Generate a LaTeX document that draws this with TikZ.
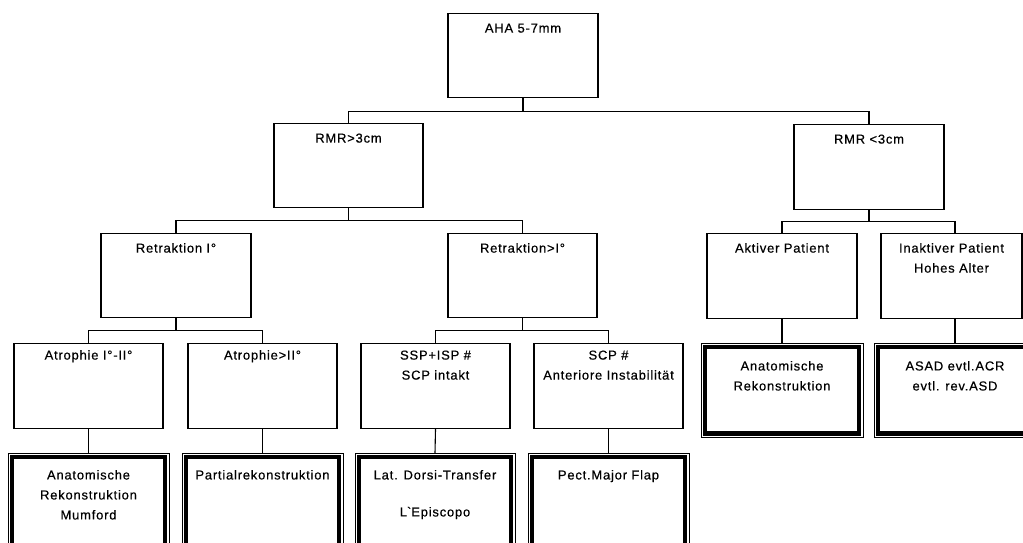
\documentclass[tikz,border=0pt]{standalone}
\usepackage{fontspec}
\setmainfont{Liberation Sans}[LetterSpace=6,FakeBold=0.5]
\usetikzlibrary{calc}

% box content: width, height, gap above first line, text lines
\newcommand{\boxtext}[4]{\parbox[t][#2][t]{#1}{\centering\vspace*{#3}\strut #4}}

\tikzset{
  tbox/.style={draw, line width=1.2pt, inner sep=0pt, anchor=north,
    font=\fontsize{13}{20}\selectfont},
  dbox/.style={draw, line width=0.9pt, inner sep=0pt, anchor=north,
    font=\fontsize{13}{20}\selectfont,
    path picture={\draw[line width=4.2pt]
      ([shift={(3.9pt,-3.9pt)}]path picture bounding box.north west) rectangle
      ([shift={(-3.9pt,3.9pt)}]path picture bounding box.south east);}},
  conn/.style={line width=1.1pt},
}

\begin{document}
\begin{tikzpicture}[x=1pt,y=-1pt]
\useasboundingbox (0,0) rectangle (1023,542);
\clip (0,0) rectangle (1023,542);

% level 0
\node[tbox] (aha) at (523,13) {\boxtext{150pt}{84pt}{5pt}{AHA 5-7mm}};

% level 1
\node[tbox] (rmrA) at (348.5,123) {\boxtext{149pt}{84pt}{5pt}{RMR>3cm}};
\node[tbox] (rmrB) at (869,124) {\boxtext{150pt}{85pt}{5pt}{RMR <3cm}};

% level 2
\node[tbox] (retA) at (176,233) {\boxtext{150pt}{84pt}{5pt}{Retraktion I°}};
\node[tbox] (retB) at (522.5,233) {\boxtext{149pt}{84pt}{5pt}{Retraktion>I°}};
\node[tbox] (akt) at (782,233) {\boxtext{150pt}{85pt}{5pt}{Aktiver Patient}};
\node[tbox] (inakt) at (951.5,233) {\boxtext{141pt}{85pt}{5pt}{Inaktiver Patient\\Hohes Alter}};

% level 3
\node[tbox] (atA) at (88.5,343) {\boxtext{149pt}{85pt}{2pt}{Atrophie I°-II°}};
\node[tbox] (atB) at (262.5,343) {\boxtext{149pt}{85pt}{2pt}{Atrophie>II°}};
\node[tbox] (ssp) at (435.5,343) {\boxtext{149pt}{85pt}{2pt}{SSP+ISP \#\\SCP intakt}};
\node[tbox] (scp) at (608.5,343) {\boxtext{149pt}{85pt}{2pt}{SCP \#\\Anteriore Instabilität}};

% therapy boxes (right branch)
\node[dbox] (anat) at (782,343) {\boxtext{162pt}{94pt}{13pt}{Anatomische\\Rekonstruktion}};
\node[dbox] (asad) at (955,343) {\boxtext{162pt}{94pt}{13pt}{ASAD evtl.ACR\\evtl. rev.ASD}};

% therapy boxes (left branch)
\node[dbox] (mumf) at (88.5,453) {\boxtext{161pt}{110pt}{12pt}{Anatomische\\Rekonstruktion\\Mumford}};
\node[dbox] (part) at (262.5,453) {\boxtext{161pt}{110pt}{12pt}{Partialrekonstruktion}};
\node[dbox] (lat) at (435,453) {\boxtext{160pt}{110pt}{12pt}{Lat. Dorsi-Transfer\\[17pt]L\textasciigrave Episcopo}};
\node[dbox] (pect) at (608.5,453) {\boxtext{161pt}{110pt}{12pt}{Pect.Major Flap}};

% junction points of the branch bars
\coordinate (j0) at ($(aha.south)+(0,13)$);
\coordinate (j1) at ($(rmrA.south)+(0,12)$);
\coordinate (j2) at ($(rmrB.south)+(0,11)$);
\coordinate (j3) at ($(retA.south)+(0,12)$);
\coordinate (j4) at ($(retB.south)+(0,12)$);
\coordinate (inTop) at (asad.north |- inakt.north);
\coordinate (inBot) at (asad.north |- inakt.south);

% connectors
\draw[conn] (aha.south) -- (j0);
\draw[conn] (rmrA.north) |- (j0) -| (rmrB.north);

\draw[conn] (rmrA.south) -- (j1);
\draw[conn] (retA.north) |- (j1) -| (retB.north);

\draw[conn] (rmrB.south) -- (j2);
\draw[conn] (akt.north) |- (j2) -| (inTop);

\draw[conn] (retA.south) -- (j3);
\draw[conn] (atA.north) |- (j3) -| (atB.north);

\draw[conn] (retB.south) -- (j4);
\draw[conn] (ssp.north) |- (j4) -| (scp.north);

\draw[conn] (atA.south) -- (mumf.north);
\draw[conn] (atB.south) -- (part.north);
\draw[conn] (ssp.south) -- (lat.north);
\draw[conn] (scp.south) -- (pect.north);
\draw[conn] (akt.south) -- (anat.north);
\draw[conn] (inBot) -- (asad.north);
\end{tikzpicture}
\end{document}
